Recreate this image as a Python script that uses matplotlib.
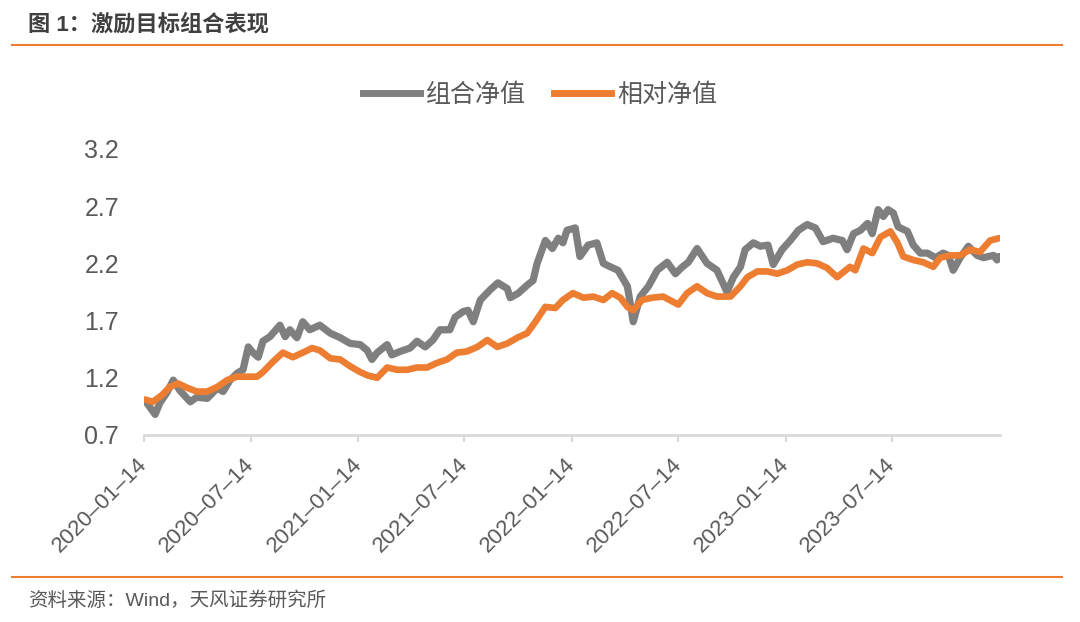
import matplotlib
matplotlib.use("Agg")
import matplotlib.pyplot as plt
from matplotlib.lines import Line2D
import pandas as pd

plt.rcParams['font.family'] = ['Liberation Sans', 'Noto Sans CJK SC', 'DejaVu Sans']

title_text = "图 1：激励目标组合表现"
source_text = "资料来源：Wind，天风证券研究所"
series_names = ["组合净值", "相对净值"]

portfolio_dates = [
    "2020-01-16", "2020-02-02", "2020-02-10", "2020-02-22", "2020-03-04", "2020-03-15",
    "2020-04-02", "2020-04-13", "2020-05-01", "2020-05-18", "2020-05-28", "2020-06-09",
    "2020-06-21", "2020-07-01", "2020-07-10", "2020-07-18", "2020-07-27", "2020-08-04",
    "2020-08-16", "2020-09-02", "2020-09-11", "2020-09-19", "2020-10-01", "2020-10-11",
    "2020-10-23", "2020-11-09", "2020-11-27", "2020-12-14", "2020-12-31", "2021-01-17",
    "2021-01-29", "2021-02-06", "2021-02-15", "2021-03-04", "2021-03-12", "2021-03-26",
    "2021-04-12", "2021-04-24", "2021-05-08", "2021-05-21", "2021-06-02", "2021-06-19",
    "2021-06-28", "2021-07-12", "2021-07-20", "2021-07-29", "2021-08-10", "2021-08-27",
    "2021-09-09", "2021-09-25", "2021-09-30", "2021-10-14", "2021-10-29", "2021-11-08",
    "2021-11-15", "2021-11-29", "2021-12-11", "2021-12-21", "2021-12-29", "2022-01-05",
    "2022-01-19", "2022-01-27", "2022-02-10", "2022-02-25", "2022-03-08", "2022-03-20",
    "2022-04-02", "2022-04-18", "2022-04-28", "2022-05-10", "2022-05-24", "2022-06-08",
    "2022-06-25", "2022-07-09", "2022-07-21", "2022-07-31", "2022-08-15", "2022-09-01",
    "2022-09-18", "2022-10-05", "2022-10-16", "2022-10-28", "2022-11-05", "2022-11-19",
    "2022-12-01", "2022-12-14", "2022-12-23", "2023-01-07", "2023-01-21", "2023-02-04",
    "2023-02-19", "2023-03-05", "2023-03-18", "2023-04-04", "2023-04-20", "2023-04-28",
    "2023-05-09", "2023-05-21", "2023-06-02", "2023-06-10", "2023-06-20", "2023-06-29",
    "2023-07-07", "2023-07-16", "2023-07-24", "2023-08-09", "2023-08-19", "2023-08-31",
    "2023-09-12", "2023-09-26", "2023-10-09", "2023-10-18", "2023-10-26", "2023-11-07",
    "2023-11-21", "2023-12-06", "2023-12-17", "2023-12-25", "2024-01-03", "2024-01-09",
    "2024-01-12",
]
portfolio_values = [
    1.00, 0.88, 0.98, 1.07, 1.18, 1.09,
    0.99, 1.03, 1.02, 1.11, 1.08, 1.18,
    1.24, 1.27, 1.47, 1.42, 1.38, 1.52,
    1.56, 1.66, 1.56, 1.62, 1.55, 1.69,
    1.62, 1.66, 1.59, 1.55, 1.50, 1.49,
    1.44, 1.36, 1.42, 1.49, 1.40, 1.43,
    1.46, 1.52, 1.47, 1.53, 1.62, 1.62,
    1.73, 1.78, 1.79, 1.69, 1.88, 1.97,
    2.03, 1.98, 1.90, 1.94, 2.01, 2.05,
    2.20, 2.40, 2.33, 2.42, 2.38, 2.49,
    2.51, 2.26, 2.36, 2.38, 2.20, 2.17,
    2.14, 2.00, 1.69, 1.91, 2.00, 2.14,
    2.21, 2.11, 2.17, 2.21, 2.33, 2.20,
    2.14, 1.95, 2.08, 2.17, 2.32, 2.38,
    2.35, 2.36, 2.19, 2.32, 2.40, 2.49,
    2.54, 2.51, 2.39, 2.42, 2.40, 2.32,
    2.46, 2.49, 2.55, 2.46, 2.67, 2.61,
    2.67, 2.64, 2.52, 2.48, 2.36, 2.29,
    2.29, 2.25, 2.29, 2.27, 2.14, 2.25,
    2.35, 2.27, 2.25, 2.26, 2.27, 2.23,
    2.26,
]

relative_dates = [
    "2020-01-16", "2020-01-29", "2020-02-14", "2020-02-27", "2020-03-12", "2020-03-29",
    "2020-04-13", "2020-05-01", "2020-05-18", "2020-06-04", "2020-06-21", "2020-07-08",
    "2020-07-25", "2020-08-04", "2020-08-21", "2020-09-07", "2020-09-24", "2020-10-11",
    "2020-10-27", "2020-11-09", "2020-11-27", "2020-12-14", "2020-12-31", "2021-01-17",
    "2021-01-30", "2021-02-15", "2021-03-04", "2021-03-21", "2021-04-07", "2021-04-24",
    "2021-05-11", "2021-05-28", "2021-06-14", "2021-07-01", "2021-07-18", "2021-08-05",
    "2021-08-22", "2021-09-08", "2021-09-25", "2021-10-12", "2021-10-29", "2021-11-12",
    "2021-11-29", "2021-12-16", "2021-12-29", "2022-01-15", "2022-02-02", "2022-02-19",
    "2022-03-08", "2022-03-23", "2022-04-06", "2022-04-18", "2022-04-28", "2022-05-13",
    "2022-05-30", "2022-06-18", "2022-07-14", "2022-07-29", "2022-08-15", "2022-09-01",
    "2022-09-18", "2022-10-11", "2022-10-28", "2022-11-09", "2022-11-26", "2022-12-13",
    "2022-12-30", "2023-01-16", "2023-02-02", "2023-02-19", "2023-03-08", "2023-03-25",
    "2023-04-11", "2023-05-03", "2023-05-12", "2023-05-26", "2023-06-10", "2023-06-24",
    "2023-07-11", "2023-07-23", "2023-08-02", "2023-08-19", "2023-09-05", "2023-09-22",
    "2023-10-04", "2023-10-21", "2023-11-07", "2023-11-24", "2023-12-11", "2023-12-28",
    "2024-01-12",
]
relative_values = [
    1.01, 0.99, 1.05, 1.12, 1.15, 1.11,
    1.08, 1.08, 1.12, 1.18, 1.21, 1.21,
    1.21, 1.25, 1.34, 1.42, 1.38, 1.42,
    1.46, 1.44, 1.37, 1.36, 1.30, 1.25,
    1.22, 1.20, 1.29, 1.27, 1.27, 1.29,
    1.29, 1.33, 1.36, 1.42, 1.43, 1.47,
    1.53, 1.47, 1.50, 1.55, 1.59, 1.69,
    1.82, 1.81, 1.88, 1.94, 1.90, 1.91,
    1.88, 1.94, 1.90, 1.82, 1.79, 1.88,
    1.90, 1.91, 1.84, 1.94, 2.00, 1.94,
    1.91, 1.91, 2.00, 2.08, 2.13, 2.13,
    2.11, 2.14, 2.19, 2.21, 2.20, 2.16,
    2.08, 2.17, 2.14, 2.33, 2.29, 2.43,
    2.48, 2.38, 2.26, 2.23, 2.21, 2.17,
    2.25, 2.27, 2.27, 2.32, 2.30, 2.40,
    2.42,
]

x_tick_dates = ["2020-01-14", "2020-07-14", "2021-01-14", "2021-07-14",
                "2022-01-14", "2022-07-14", "2023-01-14", "2023-07-14"]
y_ticks = [0.7, 1.2, 1.7, 2.2, 2.7, 3.2]

GRAY = "#7F7F7F"
ORANGE = "#ED7D31"
TEXT = "#595959"

W, H = 1080, 622
fig = plt.figure(figsize=(W / 100, H / 100), dpi=100)

def fx(px):
    return px / W

def fy(py):
    return 1 - py / H

ax = fig.add_axes([fx(144), fy(435), fx(1000) - fx(144), fy(149) - fy(435)])

pd_dates = pd.to_datetime(portfolio_dates)
rel_dates = pd.to_datetime(relative_dates)
ax.plot(pd_dates, portfolio_values, color=GRAY, lw=5.2, solid_joinstyle='round', solid_capstyle='round', zorder=2)
ax.plot(rel_dates, relative_values, color=ORANGE, lw=4.8, solid_joinstyle='round', solid_capstyle='round', zorder=3)

ax.set_xlim(pd.Timestamp("2020-01-14"), pd.Timestamp("2024-01-14"))
ax.set_ylim(0.7, 3.2)

ticks = pd.to_datetime(x_tick_dates)
ax.set_xticks(ticks)
ax.set_xticklabels([d.replace("-", "–") for d in x_tick_dates], rotation=45,
                   ha='right', va='center', rotation_mode='anchor', fontsize=16, color=TEXT)
ax.set_yticks(y_ticks)
ax.set_yticklabels([f"{v:.1f}" for v in y_ticks], fontsize=18, color=TEXT)

for s in ['top', 'right', 'left']:
    ax.spines[s].set_visible(False)
ax.spines['bottom'].set_color("#D9D9D9")
ax.spines['bottom'].set_linewidth(2.0)
ax.tick_params(axis='x', length=5, width=1.5, color="#D9D9D9", pad=14)
ax.tick_params(axis='y', length=0, pad=18)
ax.set_facecolor('none')

# legend
handles = [Line2D([0], [0], color=GRAY, lw=5.0), Line2D([0], [0], color=ORANGE, lw=5.0)]
leg = fig.legend(handles, series_names, loc='center', bbox_to_anchor=(fx(540), fy(95)),
                 ncol=2, frameon=False, fontsize=18, handlelength=2.3, handletextpad=0.25,
                 columnspacing=1.1, labelcolor=TEXT)

# title and rules
fig.text(fx(28), fy(25), title_text, fontsize=16, fontweight='bold', color="#404040",
         ha='left', va='center')
fig.add_artist(Line2D([fx(12), fx(1062)], [fy(45), fy(45)], color=ORANGE, lw=1.5))
fig.add_artist(Line2D([fx(12), fx(1062)], [fy(577), fy(577)], color=ORANGE, lw=1.5))
fig.text(fx(28), fy(601), source_text, fontsize=14, color=TEXT, ha='left', va='center')

fig.savefig("out.png", dpi=100)
